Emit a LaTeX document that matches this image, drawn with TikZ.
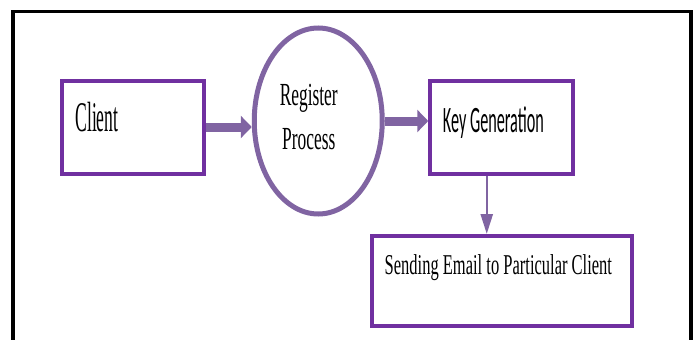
\documentclass[tikz,border=0pt]{standalone}
\usepackage{graphicx}
\usepackage{fontspec}
\setmainfont{Liberation Serif}
\newfontfamily\keyfont{Carlito}
\usepackage{xcolor}
\definecolor{boxpurple}{HTML}{7030A0}
\definecolor{flowpurple}{HTML}{8064A2}
\usepackage{tikz}
\usetikzlibrary{positioning,shapes.geometric}
\usetikzlibrary{arrows.meta}
\newcommand{\tall}[2]{\scalebox{1}[#1]{#2}}
\tikzset{
  procbox/.style  ={ rectangle, draw=boxpurple, line width=4pt, fill=white, inner sep=0pt },
  regcircle/.style={ ellipse, draw=flowpurple, line width=5pt, fill=white, inner sep=0pt },
  boxtext/.style  ={ inner sep=0pt, anchor=base west },
  flow/.style     ={ -{Triangle[width=22pt,length=11pt]}, draw=flowpurple, line width=9pt },
  thinflow/.style ={ -{Triangle[width=12pt,length=20pt]}, draw=flowpurple, line width=2.5pt },
%
  frameline/.style={ draw=black, line width=3.5pt }
}

\begin{document}
\begin{tikzpicture}[x=1pt,y=1pt]
\useasboundingbox (0,0) rectangle (699,-340);

\draw[frameline] (13,-345) -- (13,-11.5) -- (691,-11.5) -- (691,-345);

\node[procbox,   minimum width=142.5pt,minimum height=93pt] (client) at (133,-127) {};
\node[regcircle, minimum width=128pt,  minimum height=186pt] (register) [right=45.5pt of client, yshift=6pt] {};
\node[procbox,   minimum width=143pt,  minimum height=93pt] (keygen) [right=43.5pt of register, yshift=-6pt] {};
\node[procbox,   minimum width=260.5pt,minimum height=90pt] (email) [below=58.5pt of keygen] {};

\node[boxtext] (clienttext) at ([xshift=15.5pt,yshift=-4pt]client.west)
  {\fontsize{17.6}{20}\selectfont\tall{2.4}{Client}};
\node[inner sep=0pt, anchor=base] (registertext) at ([xshift=-9.5pt,yshift=16pt]register.center)
  {\fontsize{17.4}{24.3}\selectfont\tall{1.85}{\begin{tabular}[t]{@{}c@{}}Register\\Process\end{tabular}}};
\node[boxtext] (keygentext) at ([xshift=14.5pt,yshift=-5pt]keygen.west)
  {\keyfont\fontsize{16.2}{20}\selectfont\tall{2.3}{Key Generation}};
\node[boxtext] (emailtext) at ([xshift=15pt,yshift=7pt]email.west)
  {\fontsize{16.5}{20}\selectfont\tall{1.74}{Sending Email to Particular Client}};

\draw[flow] (client.east) -- (client.east -| register.west);
\draw[flow] (register.east) -- (register.east -| keygen.west);
\draw[thinflow] ([xshift=-15pt]keygen.south) -- ([xshift=-15pt]email.north);

\end{tikzpicture}
\end{document}
